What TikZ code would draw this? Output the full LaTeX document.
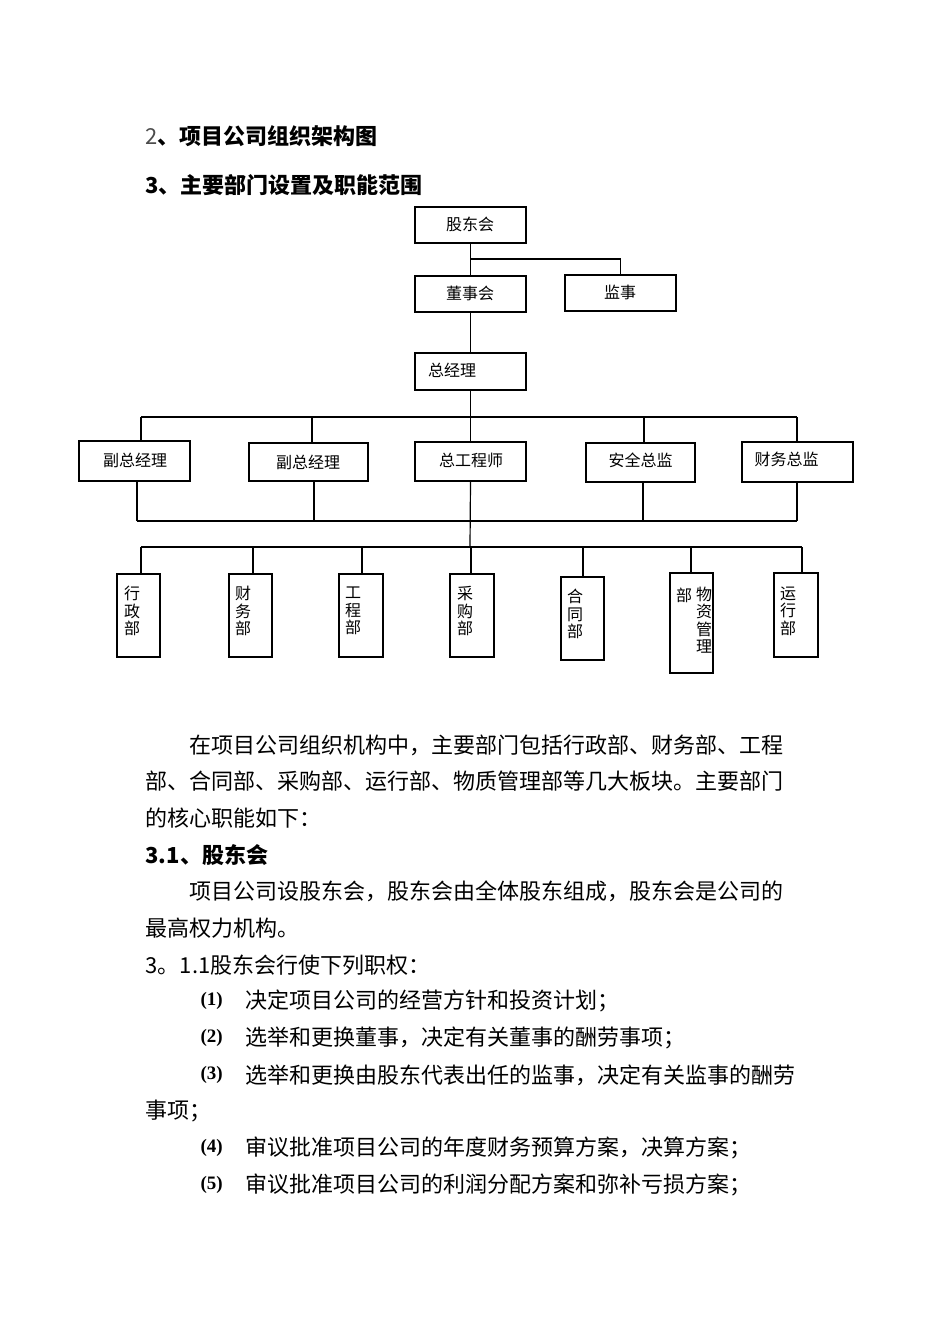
\documentclass[tikz,border=0pt]{standalone}
\usepackage{fontspec}
\newfontfamily\cjk{Noto Sans CJK SC}
\newfontfamily\numf{Liberation Serif}
\begin{document}
\begin{tikzpicture}[x=1pt,y=-1pt,line width=1.2pt,
  bx/.style n args={2}{draw,line width=1.2pt,inner sep=0pt,minimum width=#1,minimum height=#2},
  bt/.style={inner sep=0pt,font=\cjk\fontsize{16}{17.5}\selectfont,align=center},
  txt/.style={anchor=west,inner sep=0pt,font=\cjk\fontsize{22}{22}\selectfont},
  hd/.style={anchor=west,inner sep=0pt,font=\cjk\bfseries\fontsize{22}{22}\selectfont},
  num/.style={anchor=west,inner sep=0pt,font=\numf\bfseries\fontsize{19}{19}\selectfont}]
\fill[white] (0,0) rectangle (950,1344);
\useasboundingbox (0,0) rectangle (950,1344);
% headings
\node[hd] (h1) at (145,136) {{\mdseries\color{black!70}2}、项目公司组织架构图};
\node[hd] (h2) at (145,185) {3、主要部门设置及职能范围};
% boxes
\node[bx={111}{36}] (gd) at (470.5,225) {};
\node[bx={111}{36}] (ds) at (470.5,294) {};
\node[bx={111}{36}] (js) at (620.5,293) {};
\node[bx={111}{37}] (zjl) at (470.5,371.5) {};
\node[bx={111}{40}] (f1) at (134.5,461) {};
\node[bx={119}{38}] (f2) at (308.5,462) {};
\node[bx={111}{39}] (zg) at (470.5,461.5) {};
\node[bx={109}{39}] (aq) at (640.5,462.5) {};
\node[bx={111}{40}] (cw) at (797.5,462) {};
\node[bx={43}{83}] (d1) at (138.5,615.5) {};
\node[bx={43}{83}] (d2) at (250.5,615.5) {};
\node[bx={44}{83}] (d3) at (361,615.5) {};
\node[bx={44}{83}] (d4) at (472,615.5) {};
\node[bx={43}{83}] (d5) at (582.5,618.5) {};
\node[bx={43}{100}] (d6) at (691.5,623) {};
\node[bx={44}{84}] (d7) at (796,615) {};
% box texts
\node[bt] (tgd) at (470,224) {股东会};
\node[bt] (tds) at (470,293) {董事会};
\node[bt] (tjs) at (620,292) {监事};
\node[bt] (tzjl) at (452,370) {总经理};
\node[bt] (tf1) at (135,460) {副总经理};
\node[bt] (tf2) at (308,462) {副总经理};
\node[bt] (tzg) at (471,460) {总工程师};
\node[bt] (taq) at (640.5,460) {安全总监};
\node[bt] (tcw) at (786.5,459) {财务总监};
\node[bt] (td1) at (132,611) {行\\政\\部};
\node[bt] (td2) at (243,611) {财\\务\\部};
\node[bt] (td3) at (353,611) {工\\程\\部};
\node[bt] (td4) at (465,611) {采\\购\\部};
\node[bt] (td5) at (575,614) {合\\同\\部};
\node[bt] (td6a) at (684,595) {部};
\node[bt] (td6b) at (704,620) {物\\资\\管\\理};
\node[bt] (td7) at (788,611) {运\\行\\部};
% connectors
\coordinate (ja) at (470,259);
\draw (gd.south) -- (ds.north);
\draw (ja) -| (js.north);
\draw (ds.south) -- (zjl.north);
\draw (zjl.south) -- (zg.north);
\coordinate (ta) at (141,417);
\coordinate (tb) at (312,417);
\coordinate (tc) at (644,417);
\coordinate (td) at (797,417);
\draw (ta) -- (td);
\draw (ta) -- (ta |- f1.north);
\draw (tb) -- (tb |- f2.north);
\draw (tc) -- (tc |- aq.north);
\draw (td) -- (td |- cw.north);
\coordinate (ba) at (137,521);
\coordinate (bb) at (314,521);
\coordinate (bc) at (643,521);
\coordinate (bd) at (797,521);
\draw (ba) -- (bd);
\draw (ba) -- (ba |- f1.south);
\draw (bb) -- (bb |- f2.south);
\draw (bc) -- (bc |- aq.south);
\draw (bd) -- (bd |- cw.south);
\coordinate (zgb) at (470,547);
\draw (zg.south) -- (zgb);
\coordinate (p1) at (141,547);
\coordinate (p2) at (253,547);
\coordinate (p3) at (362,547);
\coordinate (p4) at (471,547);
\coordinate (p5) at (583,547);
\coordinate (p6) at (691,547);
\coordinate (p7) at (802,547);
\draw (p1) -- (p7);
\draw (p1) -- (p1 |- d1.north);
\draw (p2) -- (p2 |- d2.north);
\draw (p3) -- (p3 |- d3.north);
\draw (p4) -- (p4 |- d4.north);
\draw (p5) -- (p5 |- d5.north);
\draw (p6) -- (p6 |- d6.north);
\draw (p7) -- (p7 |- d7.north);
% body text
\node[txt] (l1) at (189,745) {在项目公司组织机构中，主要部门包括行政部、财务部、工程};
\node[txt] (l2) at (145,781) {部、合同部、采购部、运行部、物质管理部等几大板块。主要部门};
\node[txt] (l3) at (145,818) {的核心职能如下：};
\node[hd] (l4) at (145,855) {3.1、股东会};
\node[txt] (l5) at (189,891) {项目公司设股东会，股东会由全体股东组成，股东会是公司的};
\node[txt] (l6) at (145,928) {最高权力机构。};
\node[txt] (l7) at (145,965) {3。1.1股东会行使下列职权：};
\node[num] (n1) at (200,1001) {(1)};
\node[txt] (i1) at (245,1001) {决定项目公司的经营方针和投资计划；};
\node[num] (n2) at (200,1038) {(2)};
\node[txt] (i2) at (245,1038) {选举和更换董事，决定有关董事的酬劳事项；};
\node[num] (n3) at (200,1075) {(3)};
\node[txt] (i3) at (245,1075) {选举和更换由股东代表出任的监事，决定有关监事的酬劳};
\node[txt] (i3b) at (145,1111) {事项；};
\node[num] (n4) at (200,1148) {(4)};
\node[txt] (i4) at (245,1148) {审议批准项目公司的年度财务预算方案，决算方案；};
\node[num] (n5) at (200,1185) {(5)};
\node[txt] (i5) at (245,1185) {审议批准项目公司的利润分配方案和弥补亏损方案；};
\end{tikzpicture}
\end{document}
